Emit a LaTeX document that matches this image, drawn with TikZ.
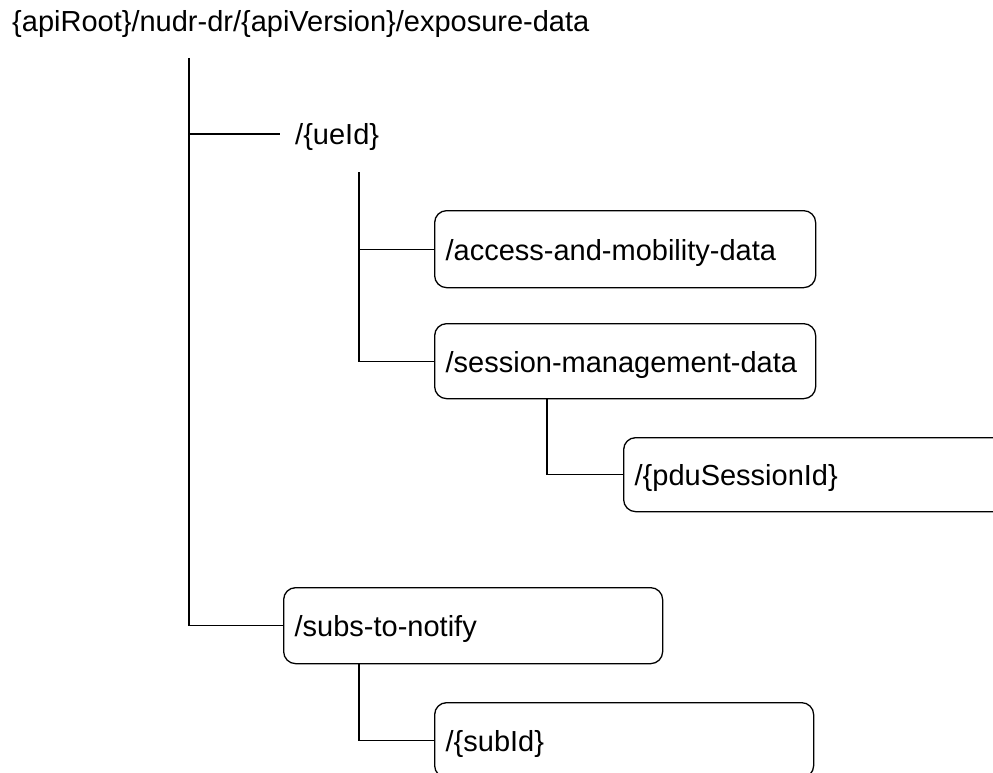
\documentclass[tikz,border=0pt]{standalone}
\usepackage{fontspec}
\setmainfont{Liberation Sans}
\begin{document}
\begin{tikzpicture}[x=1pt,y=-1pt,
  every node/.style={font=\fontsize{29}{34}\selectfont},
  conn/.style={draw=black,line width=1.3pt},
  resbox/.style={draw=black,line width=1.3pt,rounded corners=12pt,anchor=north west,
    inner xsep=11pt,inner ysep=0pt,align=left,text height=28pt,text depth=6pt},
  plain/.style={inner xsep=0pt,inner ysep=0pt,text height=28pt,text depth=6pt}]
\useasboundingbox (0,0) rectangle (993,773);
\clip (0,0) rectangle (993,773);
\node[inner sep=0pt,anchor=base west] (title) at (12,32) {\{apiRoot\}/nudr-dr/\{apiVersion\}/exposure-data};
\coordinate (root) at (189,58);
\node[plain,anchor=west,inner xsep=15pt] (ue) at (280,134) {/\{ueId\}};
\coordinate (uebar) at (359,172);
\node[resbox,minimum width=381pt,minimum height=77pt,text width=359pt] (acc) at (434,210) {/access-and-mobility-data};
\node[resbox,minimum width=381pt,minimum height=75pt,text width=359pt] (sess) at (434,323) {/session-management-data};
\node[resbox,minimum width=450pt,minimum height=74pt,text width=428pt] (pdu) at (623,437) {/\{pduSessionId\}};
\node[resbox,minimum width=379pt,minimum height=76pt,text width=357pt] (subs) at (283,587) {/subs-to-notify};
\node[resbox,minimum width=379pt,minimum height=75pt,text width=357pt] (sid) at (434,702) {/\{subId\}};
\draw[conn] (root) |- (subs.west);
\draw[conn] (root |- ue.west) -- (ue.west);
\draw[conn] (uebar) |- (sess.west);
\draw[conn] (uebar |- acc.west) -- (acc.west);
\draw[conn] ([xshift=113pt]sess.south west) |- (pdu.west);
\draw[conn] ([xshift=76pt]subs.south west) |- (sid.west);
\end{tikzpicture}
\end{document}
